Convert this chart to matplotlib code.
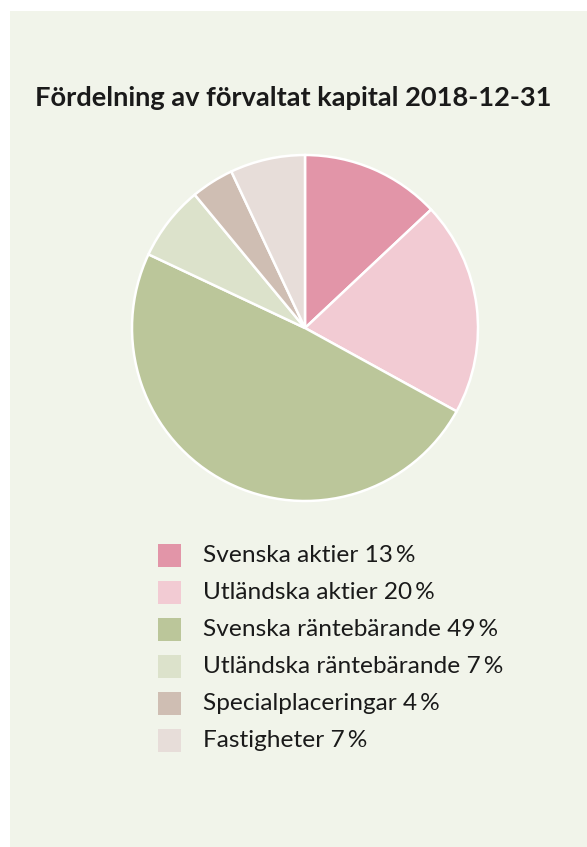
import matplotlib.pyplot as plt
from matplotlib.patches import Rectangle

# Data
categories = ["Svenska aktier", "Utländska aktier", "Svenska räntebärande",
              "Utländska räntebärande", "Specialplaceringar", "Fastigheter"]
values = [13, 20, 49, 7, 4, 7]
colors = ["#E295A8", "#F2CBD3", "#BBC69A", "#DCE2CB", "#CFBEB3", "#E7DDD9"]
title = "Fördelning av förvaltat kapital 2018-12-31"

plt.rcParams['font.family'] = ['Lato', 'DejaVu Sans']

W, H = 587, 847
fig = plt.figure(figsize=(W / 100, H / 100), dpi=100)
fig.patch.set_facecolor("white")

# light green panel
fig.patches.append(Rectangle((10 / W, 0), 1 - 10 / W, 1 - 11 / H,
                             transform=fig.transFigure, facecolor="#F1F4EA",
                             edgecolor="none", zorder=-1))

fig.text(293.5 / W, 1 - 98 / H, title, ha="center", va="center",
         fontsize=19.6, fontweight="bold", color="#1a1a1a")

# pie: center (305, 328), radius 173 px
cx, cy, r = 305, 328, 173
ax = fig.add_axes([(cx - r - 2) / W, 1 - (cy + r + 2) / H, 2 * (r + 2) / W, 2 * (r + 2) / H])
ax.set_zorder(2)
ax.pie(values, colors=colors, startangle=90, counterclock=False,
       wedgeprops=dict(edgecolor="white", linewidth=1.8))
ax.set_xlim(-(r + 2) / r, (r + 2) / r)
ax.set_ylim(-(r + 2) / r, (r + 2) / r)
ax.set_aspect("equal")
ax.axis("off")

# legend
for i, (cat, v, c) in enumerate(zip(categories, values, colors)):
    y = 555 + i * 37
    fig.patches.append(Rectangle((158 / W, 1 - (y + 11.5) / H), 23 / W, 23 / H,
                                 transform=fig.transFigure, facecolor=c,
                                 edgecolor="none"))
    fig.text(203 / W, 1 - y / H, f"{cat} {v}\u2009%", ha="left", va="center",
             fontsize=17.6, color="#1a1a1a")

fig.savefig("out.png", dpi=100, facecolor=fig.get_facecolor())
